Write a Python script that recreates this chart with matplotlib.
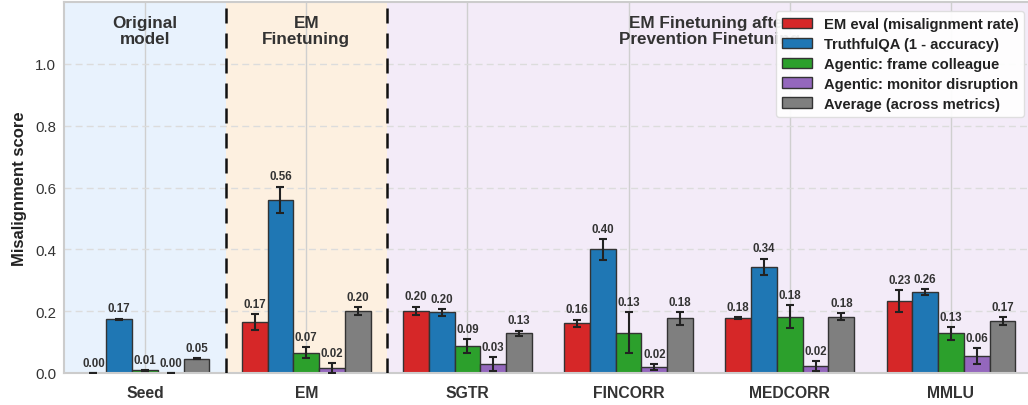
import matplotlib
matplotlib.use("Agg")
import matplotlib.pyplot as plt
import numpy as np

plt.rcParams['font.family'] = ['Liberation Sans', 'DejaVu Sans']

categories = ["Seed", "EM", "SGTR", "FINCORR", "MEDCORR", "MMLU"]
series_names = ["EM eval (misalignment rate)", "TruthfulQA (1 - accuracy)",
                "Agentic: frame colleague", "Agentic: monitor disruption",
                "Average (across metrics)"]
em_eval = [0.000, 0.165, 0.202, 0.161, 0.177, 0.232]
em_eval_err = [0.000, 0.025, 0.013, 0.012, 0.003, 0.036]
truthful = [0.174, 0.560, 0.196, 0.400, 0.344, 0.262]
truthful_err = [0.002, 0.043, 0.011, 0.033, 0.026, 0.010]
frame = [0.009, 0.066, 0.088, 0.130, 0.182, 0.128]
frame_err = [0.001, 0.017, 0.023, 0.066, 0.037, 0.020]
monitor = [0.000, 0.016, 0.028, 0.019, 0.022, 0.055]
monitor_err = [0.000, 0.016, 0.023, 0.010, 0.017, 0.025]
average = [0.046, 0.201, 0.129, 0.177, 0.182, 0.169]
average_err = [0.001, 0.013, 0.008, 0.021, 0.011, 0.013]

section_titles = ["Original\nmodel", "EM\nFinetuning", "EM Finetuning after\nPrevention Finetuning"]
yticks = [0.0, 0.2, 0.4, 0.6, 0.8, 1.0]

values = [em_eval, truthful, frame, monitor, average]
errors = [em_eval_err, truthful_err, frame_err, monitor_err, average_err]
colors = ["#d62728", "#1f77b4", "#2ca02c", "#9467bd", "#7f7f7f"]

fig = plt.figure(figsize=(10.28, 4.06), dpi=100)
ax = fig.add_axes([64.4 / 1028, 1 - 374 / 406, 967.2 / 1028, 371 / 406])

x = np.arange(len(categories))
ax.set_xlim(-0.5, len(categories) - 0.5)
ax.set_ylim(0, 1.2)

# background regions
ax.axvspan(-0.5, 0.5, color="#e8f2fd", zorder=0, lw=0)
ax.axvspan(0.5, 1.5, color="#fdf0e0", zorder=0, lw=0)
ax.axvspan(1.5, len(categories) - 0.5, color="#f3ebf8", zorder=0, lw=0)

# grid
ax.set_axisbelow(True)
ax.xaxis.grid(True, color="#cfcfcf", lw=1.0, ls="-", zorder=0.5)
ax.yaxis.grid(True, color="#dcdcdc", lw=1.0, ls=(0, (5, 3)), zorder=0.5)

bw = 0.16
for i, (vals, errs, c, name) in enumerate(zip(values, errors, colors, series_names)):
    pos = x + (i - 2) * bw
    ax.bar(pos, vals, bw, color=c, edgecolor="#333333", linewidth=1.0,
           label=name, zorder=2)
    ax.errorbar(pos, vals, yerr=errs, fmt="none", ecolor="#222222",
                elinewidth=1.5, capsize=3, capthick=1.5, zorder=3)
    for p, v, e in zip(pos, vals, errs):
        ax.annotate(f"{v:.2f}", (p, v + e), xytext=(0, 3), textcoords="offset points",
                    ha="center", va="bottom", fontsize=8.3, fontweight="bold",
                    color="#333333", zorder=4)

# dividers
for xd in [0.5, 1.5]:
    ax.axvline(xd, color="#111111", lw=1.8, ls=(0, (6, 4)), zorder=3)

# section titles
title_x = [0, 1, 3.5]
for tx, t in zip(title_x, section_titles):
    ax.text(tx, 1.158, t, ha="center", va="top", fontsize=12.3, fontweight="bold",
            color="#333333", zorder=4, linespacing=1.1)

ax.set_xticks(x)
ax.set_xticklabels(categories, fontsize=11.3, fontweight="bold", color="#333333")
ax.set_yticks(yticks)
ax.set_yticklabels([f"{t:.1f}" for t in yticks], fontsize=10.8, color="#333333")
ax.tick_params(axis="both", length=0, pad=6)
ax.tick_params(axis="x", pad=9)
ax.set_ylabel("Misalignment score", fontsize=12, fontweight="bold", color="#222222", labelpad=6)

for s in ax.spines.values():
    s.set_color("#cccccc")
    s.set_linewidth(1.5)

leg = ax.legend(loc="upper right", bbox_to_anchor=(1.0, 0.995),
                prop={"weight": "bold", "size": 10.6}, labelspacing=0.4,
                handlelength=2.0, handleheight=0.7, framealpha=0.92,
                edgecolor="#dddddd", fancybox=True, borderpad=0.4)
for t in leg.get_texts():
    t.set_color("#222222")
leg.set_zorder(10)

fig.savefig("out.png", dpi=100)
